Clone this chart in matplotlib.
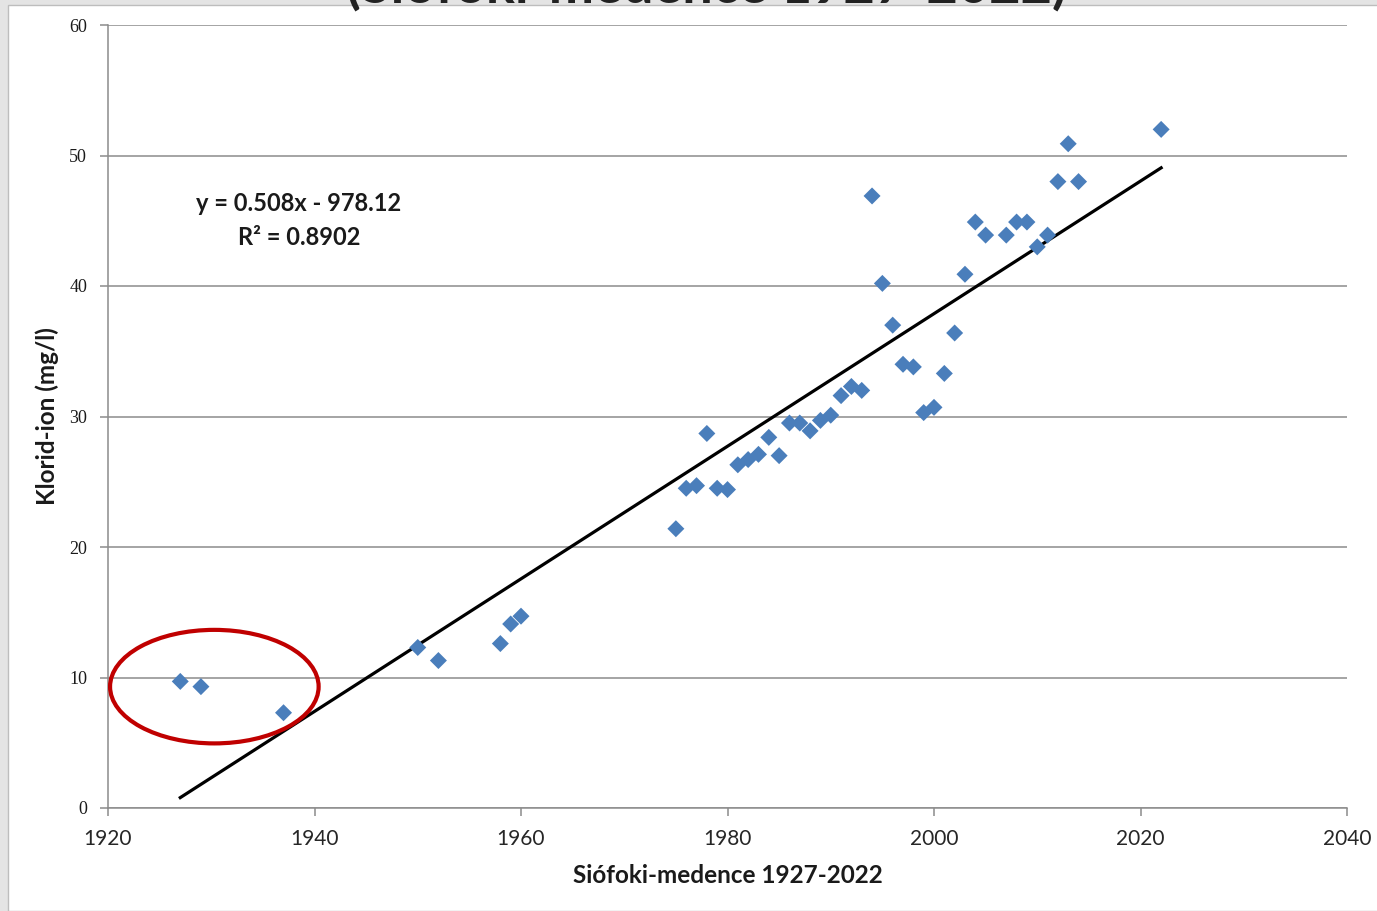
import matplotlib.pyplot as plt
import numpy as np
from matplotlib.patches import Ellipse, Rectangle

# data
years = [1927, 1929, 1937, 1950, 1952, 1958, 1959, 1960,
         1975, 1976, 1977, 1978, 1979, 1980, 1981, 1982, 1983, 1984, 1985,
         1986, 1987, 1988, 1989, 1990, 1991, 1992, 1993, 1994, 1995, 1996,
         1997, 1998, 1999, 2000, 2001, 2002, 2003, 2004, 2005, 2007, 2008,
         2009, 2010, 2011, 2012, 2013, 2014, 2022]
chloride = [9.7, 9.3, 7.3, 12.3, 11.3, 12.6, 14.1, 14.7,
            21.4, 24.5, 24.7, 28.7, 24.5, 24.4, 26.3, 26.7, 27.1, 28.4, 27.0,
            29.5, 29.5, 28.9, 29.7, 30.1, 31.6, 32.3, 32.0, 46.9, 40.2, 37.0,
            34.0, 33.8, 30.3, 30.7, 33.3, 36.4, 40.9, 44.9, 43.9, 43.9, 44.9,
            44.9, 43.0, 43.9, 48.0, 50.9, 48.0, 52.0]

slope = 0.508
intercept = -978.12
r2 = 0.8902

W, H = 1377, 911
fig = plt.figure(figsize=(W / 100, H / 100), dpi=100, facecolor='#e4e4e4')

# white chart panel inside the grey frame
fig.patches.append(Rectangle((8 / W, 0), 1, 1 - 5 / H, transform=fig.transFigure,
                             facecolor='white', edgecolor='#bdbdbd', linewidth=1, zorder=-10))

# title, mostly cut off at the top edge
fig.text(0.513, 1 - 3 / H, '(Siófoki-medence 1927-2022)', ha='center', va='baseline',
         fontsize=39, fontweight='bold', family='Lato', color='#222222')

ax = fig.add_axes([108 / W, 1 - 808 / H, (1347 - 108) / W, (808 - 25) / H])
ax.set_facecolor('none')

ax.scatter(years, chloride, marker='D', s=75, color='#4a7ebb', edgecolors='none', zorder=3)

xs = np.array([years[0], years[-1]])
ax.plot(xs, slope * xs + intercept, color='black', linewidth=2.3, zorder=2)

ell = Ellipse((1930.3, 9.3), 20.2, 8.7, fill=False, edgecolor='#c00000', linewidth=3, zorder=4)
ax.add_patch(ell)

ax.set_xlim(1920, 2040)
ax.set_ylim(0, 60)
ax.set_xticks(np.arange(1920, 2041, 20))
ax.set_yticks(np.arange(0, 61, 10))
ax.grid(axis='y', color='#8c8c8c', linewidth=1.1)
ax.set_axisbelow(True)

for s in ['top', 'right']:
    ax.spines[s].set_visible(False)
for s in ['left', 'bottom']:
    ax.spines[s].set_color('#8c8c8c')
    ax.spines[s].set_linewidth(1.1)

ax.tick_params(axis='both', direction='out', length=6, color='#8c8c8c', width=1.1)
ax.tick_params(axis='x', pad=9, labelsize=15, labelcolor='#262626')
ax.tick_params(axis='y', pad=9, labelsize=13, labelcolor='#1a1a1a')
for lab in ax.get_xticklabels():
    lab.set_family('Lato')
for lab in ax.get_yticklabels():
    lab.set_family('Liberation Serif')

ax.set_xlabel('Siófoki-medence 1927-2022', fontsize=17.5, fontweight='bold', family='Lato',
              labelpad=11, color='#1a1a1a')
ax.set_ylabel('Klorid-ion (mg/l)', fontsize=17.5, fontweight='bold', family='Lato',
              labelpad=7, color='#1a1a1a')

ax.text(1938.5, 46.3, 'y = 0.508x - 978.12', ha='center', va='center', fontsize=17,
        fontweight='bold', family='Lato', color='#1a1a1a')
ax.text(1938.5, 43.7, 'R² = 0.8902', ha='center', va='center', fontsize=17,
        fontweight='bold', family='Lato', color='#1a1a1a')

fig.savefig('out.png', dpi=100, facecolor=fig.get_facecolor())
